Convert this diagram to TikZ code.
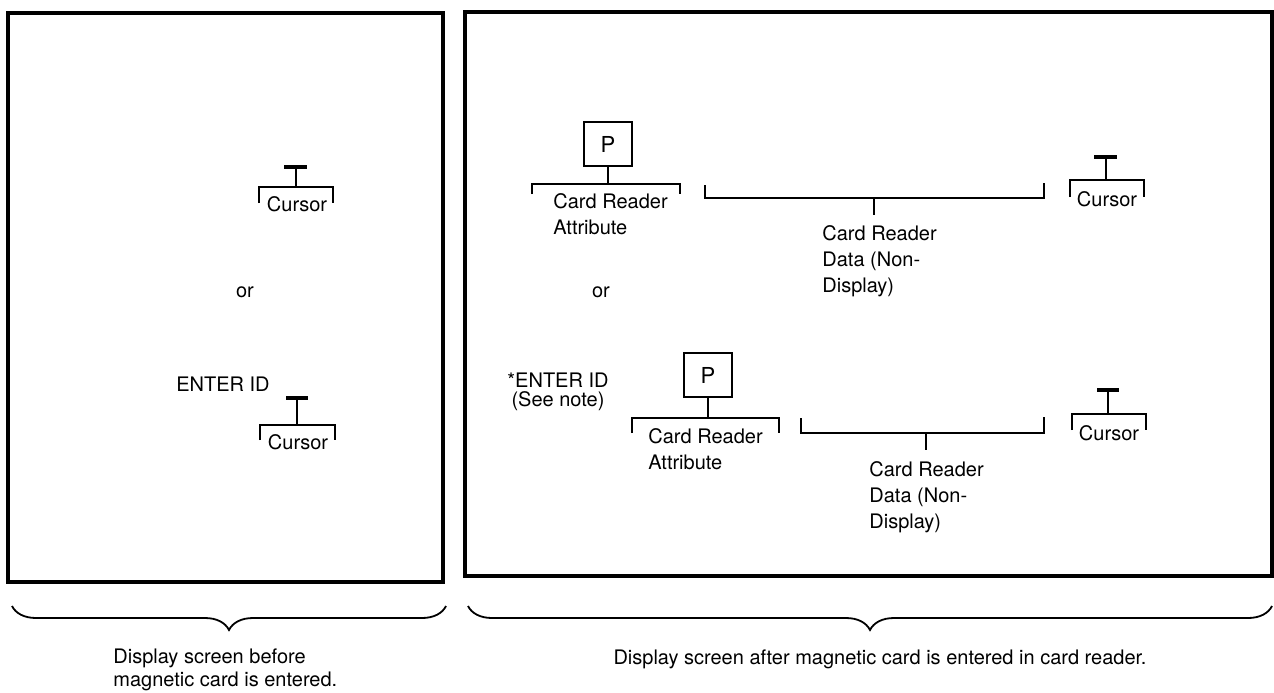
\documentclass[tikz,border=0pt]{standalone}
\usepackage{fontspec}
\setmainfont{TeX Gyre Heros}
\usetikzlibrary{positioning,calc,decorations.pathreplacing}

\begin{document}
\begin{tikzpicture}[x=0.5pt,y=-0.5pt,
  screen/.style={line width=2pt},
  brk/.style={line width=0.85pt},
  curline/.style={line width=1.6pt},
  lbl/.style={font=\fontsize{10}{13}\selectfont,inner sep=0pt},
  attr/.style={draw,line width=1pt,minimum width=24pt,minimum height=22pt,inner sep=0pt,font=\fontsize{11}{13}\selectfont},
  capbrace/.style={decorate,decoration={brace,mirror,amplitude=12pt},line width=0.9pt}]
  \useasboundingbox (0,0) rectangle (1274,692);

  % Screen before card
  \draw[screen] (8,13) rectangle (443,582);

  \coordinate (cb1) at (296,187);
  \draw[curline] (284,167) -- (307,167);
  \draw[brk] (296,168) -- (cb1);
  \draw[brk] (259,203) |- (cb1) -| (333,203);
  \node[lbl] (cur1) at (297,204) {Cursor};

  \node[lbl] (or1) at (245,292) {or};
  \node[lbl] (enter1) at (223,384) {ENTER ID};

  \coordinate (cb2) at (297,425);
  \draw[curline] (286,398) -- (308,398);
  \draw[brk] (297,399) -- (cb2);
  \draw[brk] (260,440) |- (cb2) -| (335,440);
  \node[lbl] (cur2) at (298,442) {Cursor};

  % Screen after card
  \draw[screen] (465,12) rectangle (1272,576);

  \node[attr] (p1) at (608,144) {P};
  \coordinate (ab1) at (608,184);
  \draw[brk] (p1.south) -- (ab1);
  \draw[brk] (532,194) |- (ab1) -| (680,194);
  \node[lbl,align=left,anchor=north west] (attr1) at (553,193) {Card Reader\\Attribute};

  \coordinate (db1) at (874,198);
  \draw[brk] (705,185) |- (db1) -| (1044,183);
  \draw[brk] (db1) -- ++(0,17);
  \node[lbl,align=left,anchor=north west] (data1) at (822,225) {Card Reader\\Data (Non-\\Display)};

  \coordinate (cb3) at (1106,180);
  \draw[curline] (1094,157) -- (1117,157);
  \draw[brk] (1106,158) -- (cb3);
  \draw[brk] (1070,197) |- (cb3) -| (1144,197);
  \node[lbl] (cur3) at (1107,199) {Cursor};

  \node[lbl] (or2) at (601,292) {or};
  \node[lbl,align=center,font=\fontsize{10}{9.5}\selectfont] (enter2) at (558,392) {*ENTER ID\\(See note)};

  \node[attr] (p2) at (708,375) {P};
  \coordinate (ab2) at (708,418);
  \draw[brk] (p2.south) -- (ab2);
  \draw[brk] (632,433) |- (ab2) -| (779,433);
  \node[lbl,align=left,anchor=north west] (attr2) at (648,428) {Card Reader\\Attribute};

  \coordinate (db2) at (926,433);
  \draw[brk] (801,418) |- (db2) -| (1044,417);
  \draw[brk] (db2) -- ++(0,17);
  \node[lbl,align=left,anchor=north west] (data2) at (869,461) {Card Reader\\Data (Non-\\Display)};

  \coordinate (cb4) at (1108,414);
  \draw[curline] (1097,390) -- (1119,390);
  \draw[brk] (1108,391) -- (cb4);
  \draw[brk] (1072,430) |- (cb4) -| (1146,430);
  \node[lbl] (cur4) at (1109,433) {Cursor};

  % Captions
  \draw[capbrace] (12,606) -- (446,606);
  \node[lbl,align=left,anchor=north west,font=\fontsize{10}{11.5}\selectfont] (cap1) at (113,648) {Display screen before\\magnetic card is entered.};

  \draw[capbrace] (468,606) -- (1272,606);
  \node[lbl] (cap2) at (880,659) {Display screen after magnetic card is entered in card reader.};
\end{tikzpicture}
\end{document}
